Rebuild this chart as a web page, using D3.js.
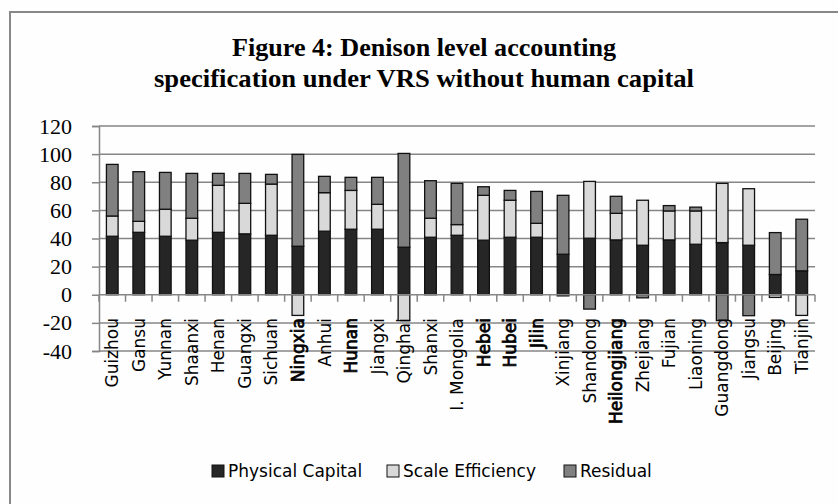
<!DOCTYPE html>
<html><head><meta charset="utf-8">
<script src="https://cdn.jsdelivr.net/npm/d3@7"></script>
<style>body{margin:0;background:#fefefe}svg{display:block}</style>
</head><body><svg id="c" width="838" height="504"></svg>
<script>
const categories = ["Guizhou","Gansu","Yunnan","Shaanxi","Henan","Guangxi","Sichuan","Ningxia","Anhui","Hunan","Jiangxi","Qinghai","Shanxi","I. Mongolia","Hebei","Hubei","Jilin","Xinjiang","Shandong","Heilongjiang","Zhejiang","Fujian","Liaoning","Guangdong","Jiangsu","Beijing","Tianjin"];
const physicalCapital = [41.6,44.4,41.6,38.8,44.4,43.3,42.3,34.5,45.2,46.6,46.6,33.8,40.9,42.3,38.8,40.9,40.9,28.8,40.2,39.0,35.2,39.0,35.9,37.1,35.2,14.4,17.0];
const scaleEfficiency = [14.4,7.8,19.2,15.6,33.4,21.7,36.4,-14.7,27.4,27.6,17.7,-18.4,13.5,7.6,31.9,26.3,9.9,-0.8,40.4,18.9,32.0,20.6,23.7,42.1,40.2,-1.9,-14.7];
const residual = [36.7,35.3,26.2,31.9,8.5,21.3,6.9,65.3,11.6,9.3,19.2,66.7,26.7,29.3,6.1,7.0,22.7,41.9,-10.2,12.1,-2.2,3.8,2.7,-18.4,-14.9,29.8,36.7];
const seriesNames = ["Physical Capital","Scale Efficiency","Residual"];
const yTicks = [-40,-20,0,20,40,60,80,100,120];
const titleLines = ["Figure 4: Denison level accounting","specification under VRS without human capital"];

const colors = ["#262626","#d9d9d9","#808080"];
const svg = d3.select("#c");
svg.append("rect").attr("width",838).attr("height",504).attr("fill","#fefefe");
svg.append("rect").attr("x",10).attr("y",12).attr("width",900).attr("height",600)
  .attr("fill","none").attr("stroke","#888").attr("stroke-width",2);

const left=99, right=815;
const x = d3.scaleBand().domain(categories).range([left,right]).paddingInner(0.56).paddingOuter(0.28);
const y = d3.scaleLinear().domain([-40,120]).range([351,126]);

// title
const tl = [{t:titleLines[0],y:56,w:384},{t:titleLines[1],y:87,w:540}];
svg.selectAll("text.title").data(tl).enter().append("text").attr("class","title")
  .attr("x",424).attr("y",d=>d.y).attr("text-anchor","middle")
  .attr("font-family","Liberation Serif, Times New Roman, serif").attr("font-weight","bold")
  .attr("font-size",25).attr("textLength",d=>d.w).attr("lengthAdjust","spacingAndGlyphs")
  .attr("fill","#000").text(d=>d.t);

// gridlines + y axis
const gAxis = svg.append("g").attr("transform",`translate(${left},0)`)
  .call(d3.axisLeft(y).tickValues(yTicks).tickSize(7).tickPadding(0).tickFormat(d=>String(d)));
gAxis.select(".domain").attr("stroke","#868686").attr("stroke-width",1.5);
gAxis.selectAll(".tick line").attr("stroke","#868686").attr("stroke-width",1.5);
gAxis.selectAll(".tick text").attr("x",-27).attr("font-size",22)
  .attr("font-family","Liberation Serif, Times New Roman, serif").attr("fill","#000");
svg.append("g").selectAll("line").data(yTicks.filter(d=>d!==0)).enter().append("line")
  .attr("x1",left).attr("x2",right).attr("y1",d=>y(d)).attr("y2",d=>y(d))
  .attr("stroke","#868686").attr("stroke-width",1.5);

// stacked bars
const table = categories.map((c,i)=>({cat:c,"Physical Capital":physicalCapital[i],"Scale Efficiency":scaleEfficiency[i],"Residual":residual[i]}));
const stack = d3.stack().keys(seriesNames).offset(d3.stackOffsetDiverging)(table);
stack.forEach((s,k)=>{
  svg.append("g").selectAll("rect").data(s).enter().append("rect")
    .attr("x",d=>x(d.data.cat)).attr("width",x.bandwidth())
    .attr("y",d=>y(Math.max(d[0],d[1]))).attr("height",d=>Math.abs(y(d[0])-y(d[1])))
    .attr("fill",colors[k]).attr("stroke","#111").attr("stroke-width",1.3);
});

// category axis at zero
const zeroY = y(0);
svg.append("line").attr("x1",left).attr("x2",right).attr("y1",zeroY).attr("y2",zeroY)
  .attr("stroke","#868686").attr("stroke-width",1.5);
const bounds = d3.range(categories.length+1).map(i=>left+i*(right-left)/categories.length);
svg.append("g").selectAll("line").data(bounds).enter().append("line")
  .attr("x1",d=>d).attr("x2",d=>d).attr("y1",zeroY).attr("y2",zeroY+7)
  .attr("stroke","#868686").attr("stroke-width",1.5);

const boldCats = new Set(["Ningxia","Hunan","Hebei","Hubei","Jilin","Heilongjiang"]);
svg.append("g").selectAll("text").data(categories).enter().append("text")
  .attr("transform",d=>`translate(${x(d)+x.bandwidth()/2},318) rotate(-90)`)
  .attr("text-anchor","end").attr("dy","0.36em")
  .attr("font-family","DejaVu Sans, sans-serif").attr("font-size",17)
  .attr("stroke",d=>boldCats.has(d)?"#000":"none").attr("stroke-width",0.7)
  .attr("fill","#000").text(d=>d);

// legend
const legX=[212,387,564];
const lg = svg.append("g").selectAll("g").data(seriesNames).enter().append("g")
  .attr("transform",(d,i)=>`translate(${legX[i]},465)`);
lg.append("rect").attr("width",12).attr("height",12).attr("fill",(d,i)=>colors[i])
  .attr("stroke","#111").attr("stroke-width",1);
lg.append("text").attr("x",16).attr("y",6).attr("dy","0.36em")
  .attr("font-family","DejaVu Sans, sans-serif").attr("font-size",17).attr("fill","#000").text(d=>d);
</script></body></html>
